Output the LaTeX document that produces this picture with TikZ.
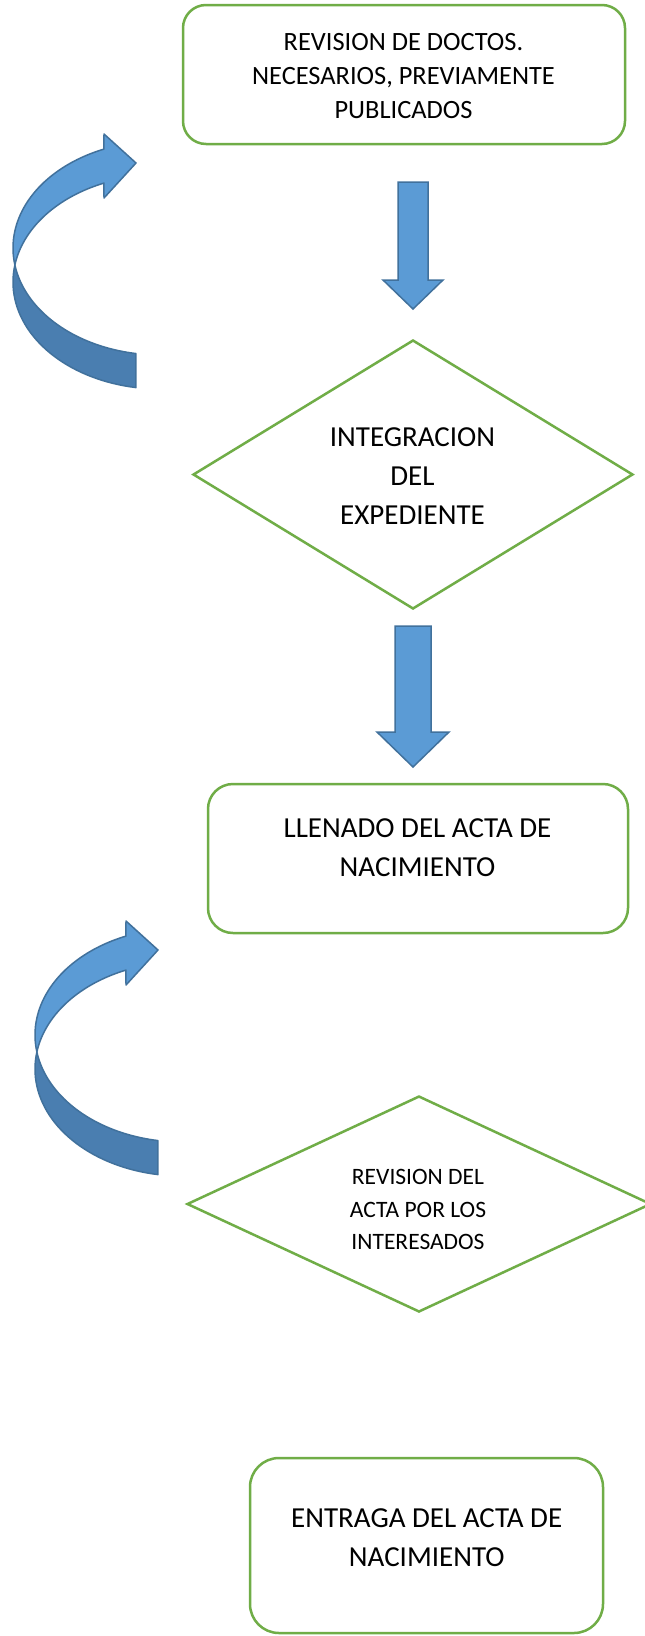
\documentclass[tikz,border=0pt]{standalone}
\usepackage{fontspec}
\setmainfont{Carlito}
\usetikzlibrary{shapes.geometric}
\definecolor{flowgreen}{HTML}{70AD47}
\definecolor{arrowblue}{HTML}{5B9BD5}
\definecolor{arrowdark}{HTML}{4A7EB0}
\definecolor{arrowline}{HTML}{41719C}
\tikzset{
  procbox/.style={draw=flowgreen, line width=2.5pt, rectangle, inner sep=0pt},
  decbox/.style={draw=flowgreen, line width=2.5pt, diamond, inner sep=0pt},
  labeltext/.style={inner sep=0pt, align=center, text=black, font=\fontsize{29}{39}\selectfont},
  blockarrow/.style={fill=arrowblue, draw=arrowline, line width=1.5pt, line join=miter},
  curvfront/.style={fill=arrowblue, draw=arrowline, line width=1.5pt, line join=round},
  curvback/.style={fill=arrowdark, draw=arrowline, line width=1.5pt, line join=round},
  curvarrow/.pic={
    \path[curvback] plot[domain=189.1:260.6, samples=40, variable=\t] ({160+147*cos(\t)},{248-107*sin(\t)})
      -- plot[domain=260.6:170.9, samples=40, variable=\t] ({160+147*cos(\t)},{282-107*sin(\t)}) -- cycle;
    \path[curvfront] plot[domain=189.1:112.4, samples=40, variable=\t] ({160+147*cos(\t)},{248-107*sin(\t)})
      -- (104,134) -- (136,163) -- (104,198)
      -- plot[domain=112.4:170.9, samples=40, variable=\t] ({160+147*cos(\t)},{282-107*sin(\t)}) -- cycle;
  }
}
\begin{document}
\begin{tikzpicture}[x=1pt,y=-1pt]
\fill[white] (0,0) rectangle (645,1636);
\useasboundingbox (0,0) rectangle (645,1636);

% boxes
\node[procbox, rounded corners=23pt, minimum width=442pt, minimum height=139pt] (b1) at (404,74.5) {};
\node[labeltext, font=\fontsize{26.4}{34}\selectfont] (t1) at (403.5,76) {REVISION DE DOCTOS.\\NECESARIOS, PREVIAMENTE\\PUBLICADOS};

\node[decbox, minimum width=440pt, minimum height=269pt] (d1) at (413,474.5) {};
\node[labeltext] (t2) at (412.5,476) {INTEGRACION\\DEL\\EXPEDIENTE};

\node[procbox, rounded corners=25pt, minimum width=420pt, minimum height=149pt] (b2) at (418,858.5) {};
\node[labeltext] (t3) at (417.5,847.5) {LLENADO DEL ACTA DE\\NACIMIENTO};

\node[decbox, minimum width=464pt, minimum height=216pt] (d2) at (419,1204) {};
\node[labeltext, font=\fontsize{23.5}{32.5}\selectfont] (t4) at (418,1209.5) {REVISION DEL\\ACTA POR LOS\\INTERESADOS};

\node[procbox, rounded corners=29pt, minimum width=353pt, minimum height=175pt] (b3) at (426.5,1545.5) {};
\node[labeltext] (t5) at (426.7,1537.5) {ENTRAGA DEL ACTA DE\\NACIMIENTO};

% block arrows
\path[blockarrow] (398,182) -- (428,182) -- (428,280) -- (443,280) -- (413,309) -- (383,280) -- (398,280) -- cycle;
\path[blockarrow] (395,626) -- (431,626) -- (431,732) -- (449,732) -- (413,767) -- (377,732) -- (395,732) -- cycle;

% curved arrows
\pic at (0,0) {curvarrow};
\pic at (22,787) {curvarrow};
\end{tikzpicture}
\end{document}
